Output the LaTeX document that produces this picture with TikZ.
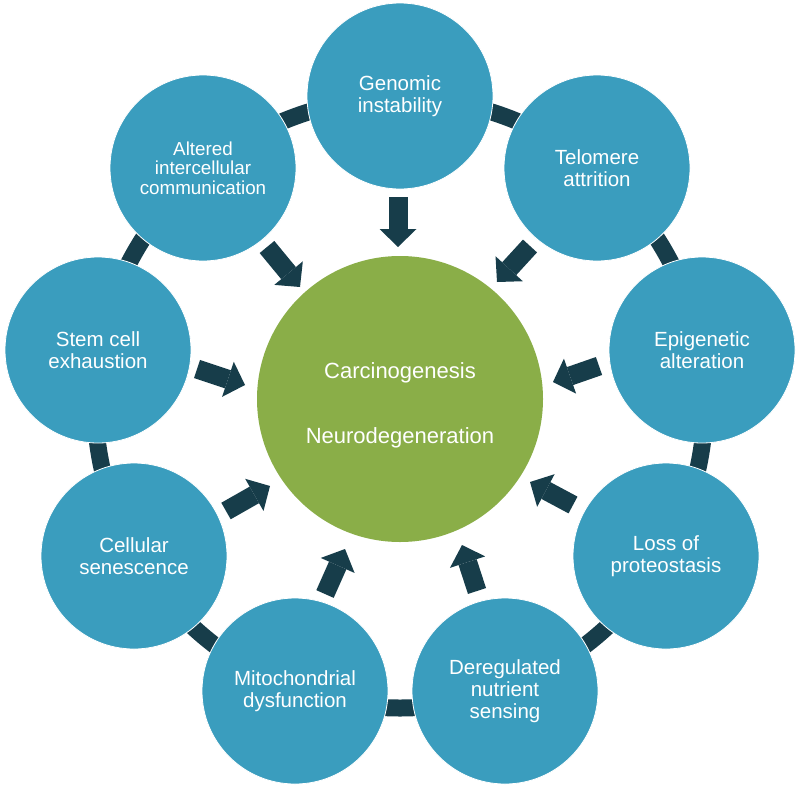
\documentclass[tikz,border=0pt]{standalone}
\usepackage{fontspec}
\setmainfont{Liberation Sans}
\usetikzlibrary{arrows.meta}
\definecolor{cellblue}{RGB}{58,157,190}
\definecolor{coregreen}{RGB}{138,174,72}
\definecolor{darkarrow}{RGB}{23,61,74}
\begin{document}
\begin{tikzpicture}[x=1pt,y=-1pt,
  cell/.style={circle, fill=cellblue, draw=white, line width=0.8pt, minimum size=186pt, inner sep=0pt,
    text=white, align=center, font=\fontsize{20.5}{22.2}\selectfont},
  smallcell/.style={cell, font=\fontsize{18.8}{19.3}\selectfont},
  core/.style={circle, fill=coregreen, minimum size=286pt, inner sep=0pt},
  coretext/.style={text=white, align=center, font=\fontsize{22}{65}\selectfont},
  blockarrow/.style={draw=darkarrow, line width=19pt,
    -{Triangle[length=18pt,width=37pt,line width=0pt,fill=darkarrow]}},
  ringline/.style={draw=darkarrow, line width=17pt}]
\useasboundingbox (0,0) rectangle (800,787);
\fill[white] (0,0) rectangle (800,787);
\coordinate (rc) at (400,403);
\draw[ringline] (rc) circle[radius=305];

\node[core] (core) at (400,399) {};
\node[coretext] (coretxt) at (400,405) {Carcinogenesis\\Neurodegeneration};

\node[cell] (gen) at (400,96) {Genomic\\instability};
\node[cell] (tel) at (597,168) {Telomere\\attrition};
\node[cell] (epi) at (702,350) {Epigenetic\\alteration};
\node[cell] (pro) at (666,556) {Loss of\\proteostasis};
\node[cell] (nut) at (505,691) {Deregulated\\nutrient\\sensing};
\node[cell] (mit) at (295,691) {Mitochondrial\\dysfunction};
\node[cell] (sen) at (134,556) {Cellular\\senescence};
\node[cell] (stem) at (98,350) {Stem cell\\exhaustion};
\node[smallcell] (alt) at (203,168) {Altered\\intercellular\\communication};

\coordinate (a1) at (398,197); \coordinate (b1) at (398,247);
\coordinate (a2) at (530,246); \coordinate (b2) at (497,282);
\coordinate (a3) at (599,366); \coordinate (b3) at (553,382);
\coordinate (a4) at (573,505); \coordinate (b4) at (530,482);
\coordinate (a5) at (477,591); \coordinate (b5) at (462,545);
\coordinate (a6) at (325,594); \coordinate (b6) at (345,549);
\coordinate (a7) at (226,511); \coordinate (b7) at (270,486);
\coordinate (a8) at (197,369); \coordinate (b8) at (245,385);
\coordinate (a9) at (267,247); \coordinate (b9) at (300,287);
\foreach \i in {1,...,9} {\draw[blockarrow] (a\i) -- (b\i);}
\end{tikzpicture}
\end{document}
